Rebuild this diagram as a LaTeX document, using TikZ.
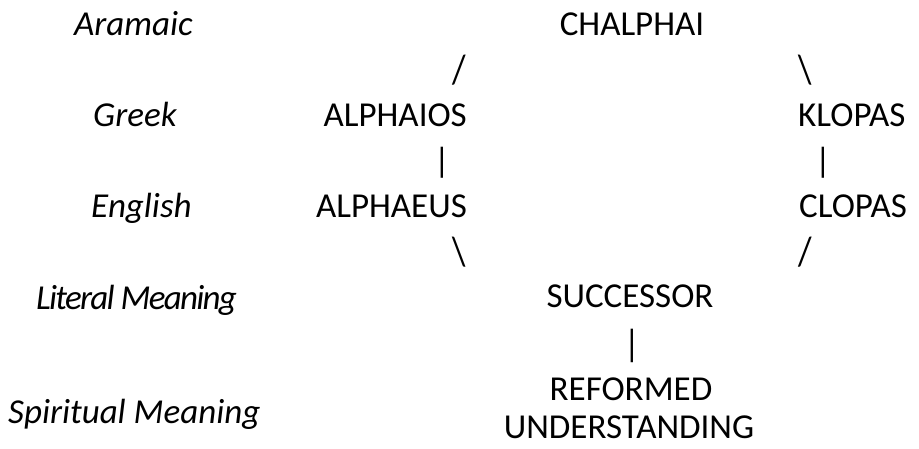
\documentclass[tikz,border=0pt]{standalone}
\usepackage{fontspec}
\usepackage{graphicx}
\setmainfont{Carlito}
\tikzset{
  lbl/.style={font=\fontsize{35}{38}\selectfont\itshape, inner sep=0pt, anchor=base west},
  word/.style={font=\fontsize{35}{38}\selectfont, inner sep=0pt, anchor=base},
  link/.style={font=\fontsize{35}{38}\selectfont, inner sep=0pt, anchor=base}
}
\newcommand{\tallglyph}[1]{\scalebox{1}[1.17]{#1}}
\begin{document}
\begin{tikzpicture}[x=1pt,y=-1pt]
\fill[white] (0,0) rectangle (919,449);
\useasboundingbox (0,0) rectangle (919,449);
% row labels
\node[lbl] (laram) at (74,36) {Aramaic};
\node[lbl] (lgreek) at (93,127) {Greek};
\node[lbl] (leng) at (91,218) {English};
\node[lbl] (llit) at (36,309) {\addfontfeature{LetterSpace=-5}Literal Meaning};
\node[lbl] (lspir) at (8,423) {Spiritual Meaning};
% words
\node[word] (chalphai) at (632,36) {CHALPHAI};
\node[word, anchor=base east] (alphaios) at (467,127) {ALPHAIOS};
\node[word, anchor=base west] (klopas) at (798,127) {KLOPAS};
\node[word, anchor=base east] (alphaeus) at (467,218) {ALPHAEUS};
\node[word, anchor=base west] (clopas) at (799,218) {CLOPAS};
\node[word] (successor) at (630,308) {SUCCESSOR};
\node[word] (reformed) at (631,400) {REFORMED};
\node[word] (understanding) at (629,438) {UNDERSTANDING};
% connectors as printed characters
\node[link] (s1) at (459.5,84) {\tallglyph{/}};
\node[link] (s2) at (805,84) {\tallglyph{\textbackslash}};
\node[link] (b1) at (442,173) {|};
\node[link] (b2) at (823,173) {|};
\node[link] (s3) at (459.5,266) {\tallglyph{\textbackslash}};
\node[link] (s4) at (805.5,266) {\tallglyph{/}};
\node[link] (b3) at (632,356) {\scalebox{1}[1.08]{|}};
\end{tikzpicture}
\end{document}
